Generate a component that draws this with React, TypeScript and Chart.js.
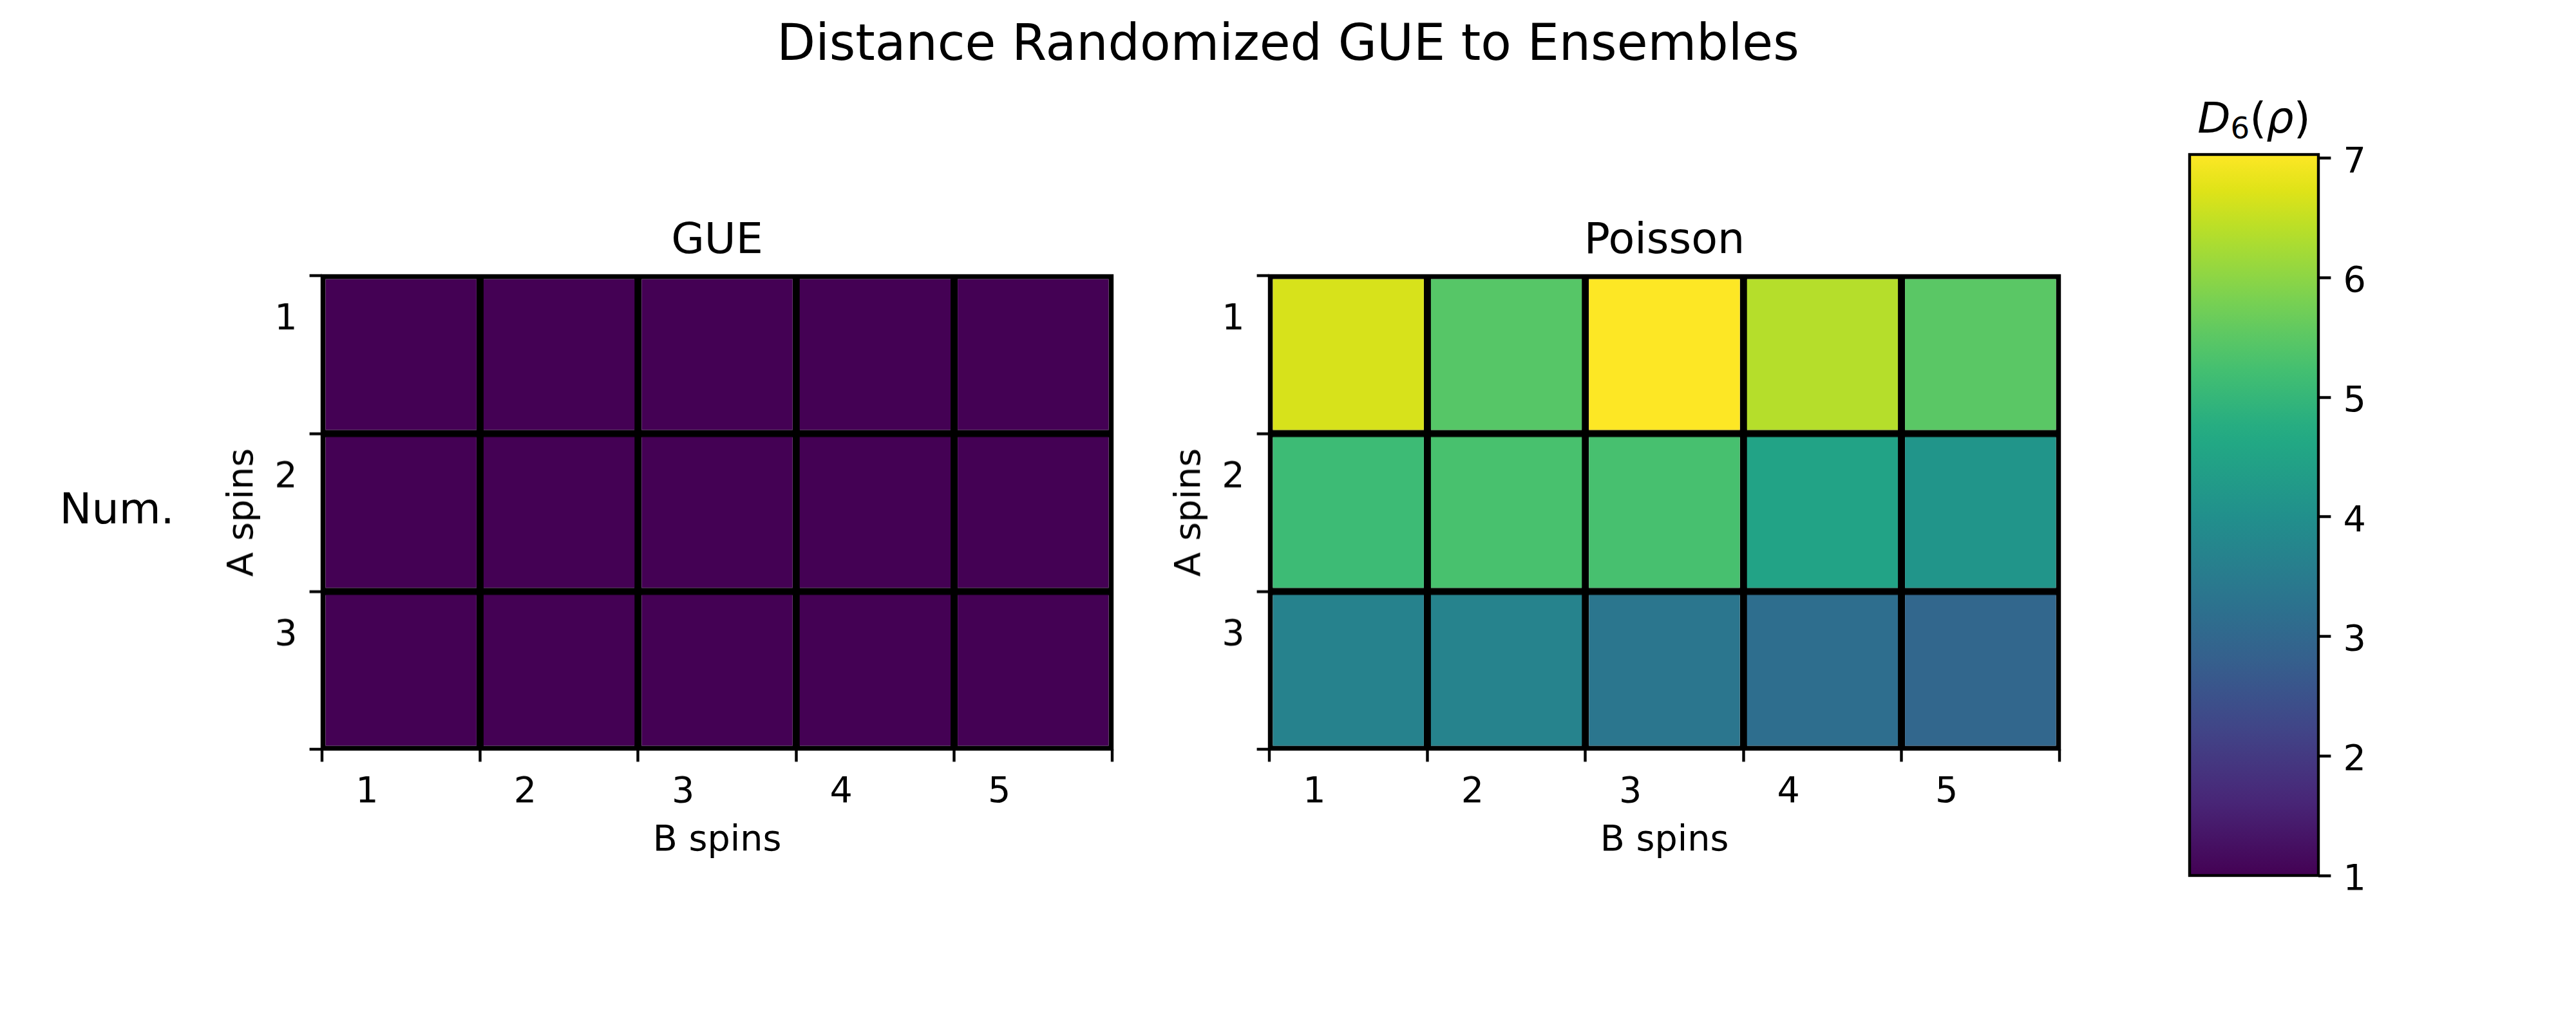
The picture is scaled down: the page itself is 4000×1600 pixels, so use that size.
import React, { useEffect, useRef } from 'react';
import { Chart, registerables } from 'chart.js';

Chart.register(...registerables);

const FONT = "'DejaVu Sans', sans-serif";

// ---- data ----
const bSpinLabels = ['1', '2', '3', '4', '5'];
const aSpinLabels = ['1', '2', '3'];

const gueRow1 = [1.0, 1.0, 1.0, 1.0, 1.0];
const gueRow2 = [1.0, 1.0, 1.0, 1.0, 1.0];
const gueRow3 = [1.0, 1.0, 1.0, 1.0, 1.0];

const poissonRow1 = [6.66, 5.44, 7.03, 6.37, 5.49];
const poissonRow2 = [5.12, 5.28, 5.27, 4.49, 4.14];
const poissonRow3 = [3.66, 3.69, 3.36, 3.16, 2.98];

const colorMin = 1.0;
const colorMax = 7.03;
const colorbarTicks = [1, 2, 3, 4, 5, 6, 7];

const mainTitle = 'Distance Randomized GUE to Ensembles';
const rowGroupLabel = 'Num.';

// ---- viridis colormap ----
const viridisStops: [number, string][] = [
  [0, '#440154'], [0.1, '#482576'], [0.125, '#472d7b'], [0.2, '#414487'],
  [0.25, '#3b528b'], [0.3, '#35608d'], [0.375, '#2c728e'], [0.4, '#2a788e'],
  [0.5, '#21908c'], [0.6, '#22a884'], [0.625, '#27ad81'], [0.7, '#43bf71'],
  [0.75, '#5dc863'], [0.8, '#7ad151'], [0.875, '#aadc32'], [0.9, '#bbdf27'],
  [0.95, '#dfe318'], [1, '#fde725'],
];

function hexToRgb(h: string) {
  return [parseInt(h.slice(1, 3), 16), parseInt(h.slice(3, 5), 16), parseInt(h.slice(5, 7), 16)];
}

function viridis(t: number) {
  const x = Math.max(0, Math.min(1, t));
  for (let i = 0; i < viridisStops.length - 1; i++) {
    const [t0, c0] = viridisStops[i];
    const [t1, c1] = viridisStops[i + 1];
    if (x >= t0 && x <= t1) {
      const f = (x - t0) / (t1 - t0);
      const a = hexToRgb(c0);
      const b = hexToRgb(c1);
      const c = a.map((v, k) => Math.round(v + (b[k] - v) * f));
      return `rgb(${c[0]},${c[1]},${c[2]})`;
    }
  }
  return viridisStops[viridisStops.length - 1][1];
}

function cellColor(v: number) {
  return viridis((v - colorMin) / (colorMax - colorMin));
}

const framePlugin = {
  id: 'frame',
  afterDraw(chart: any) {
    const { ctx, chartArea: a } = chart;
    ctx.save();
    ctx.strokeStyle = '#000';
    ctx.lineWidth = 4.4;
    ctx.strokeRect(a.left, a.top, a.right - a.left, a.bottom - a.top);
    ctx.restore();
  },
};

const tickFont = { family: FONT, size: 55.6, lineHeight: 1.2 };

function cellGrid(count: number, offset: boolean) {
  const isEdge = (c: any) => c.type !== 'tick' || c.index === 0 || c.index === count;
  return {
    offset,
    drawOnChartArea: true,
    lineWidth: (c: any) => (isEdge(c) ? 0 : 11),
    color: (c: any) => (isEdge(c) ? 'rgba(0,0,0,0)' : '#000'),
    drawTicks: true,
    tickLength: 19.4,
    tickWidth: 4.4,
    tickColor: '#000',
  };
}

const HM_W = 1457;
const HM_X_AXIS_H = 176;
const HM_H = 863.5 + HM_X_AXIS_H;
const HM_TOP = 300;

function Heatmap({ title, rows, left }: { title: string; rows: number[][]; left: number }) {
  const ref = useRef<HTMLCanvasElement>(null);
  useEffect(() => {
    const chart = new Chart(ref.current as HTMLCanvasElement, {
      type: 'bar',
      data: {
        labels: bSpinLabels,
        datasets: rows.map((row, r) => ({
          label: aSpinLabels[r],
          data: row.map(() => [r, r + 1]),
          backgroundColor: row.map(cellColor),
          borderColor: '#000',
          borderWidth: 5.5,
          borderSkipped: false,
          grouped: false,
          barPercentage: 1,
          categoryPercentage: 1,
          inflateAmount: 0,
        })) as any,
      },
      options: {
        responsive: false,
        animation: false,
        devicePixelRatio: 1,
        layout: { padding: { left: 0, top: 0, right: 30, bottom: 0 } },
        plugins: {
          legend: { display: false },
          tooltip: { enabled: false },
          title: {
            display: true,
            text: title,
            fullSize: false,
            color: '#000',
            font: { family: FONT, size: 66.7, weight: 'normal', lineHeight: 1.2 },
            padding: { top: 35.4, bottom: 12.6 },
          },
        },
        scales: {
          x: {
            type: 'category',
            offset: true,
            z: 1,
            grid: cellGrid(bSpinLabels.length, true),
            border: { display: false },
            ticks: {
              color: '#000',
              font: tickFont,
              padding: 14.7,
              labelOffset: -52.7,
              maxRotation: 0,
              minRotation: 0,
              autoSkip: false,
            },
            title: {
              display: true,
              text: 'B spins',
              color: '#000',
              font: tickFont,
              padding: { top: 0, bottom: 0 },
            },
            afterFit: (s: any) => { s.height = HM_X_AXIS_H; },
          },
          y: {
            type: 'linear',
            min: 0,
            max: aSpinLabels.length,
            reverse: true,
            z: 1,
            grid: cellGrid(aSpinLabels.length, false),
            border: { display: false },
            afterBuildTicks: (s: any) => {
              s.ticks = Array.from({ length: aSpinLabels.length + 1 }, (_, i) => ({ value: i }));
            },
            ticks: {
              color: '#000',
              font: tickFont,
              padding: 19,
              labelOffset: 68.5,
              callback: (v: any) => aSpinLabels[v] ?? '',
            },
            title: {
              display: true,
              text: 'A spins',
              color: '#000',
              font: tickFont,
              padding: { top: 43.9, bottom: 0 },
            },
            afterFit: (s: any) => { s.width = 200; },
          },
        },
      } as any,
      plugins: [framePlugin],
    });
    return () => chart.destroy();
  }, []);
  return (
    <canvas
      ref={ref}
      width={HM_W}
      height={HM_H}
      style={{ position: 'absolute', left, top: HM_TOP, width: HM_W, height: HM_H }}
    />
  );
}

const CB_LEFT = 3350;
const CB_TOP = 180;
const CB_W = 400;
const CB_H = 1240;

function Colorbar() {
  const ref = useRef<HTMLCanvasElement>(null);
  useEffect(() => {
    const chart = new Chart(ref.current as HTMLCanvasElement, {
      type: 'bar',
      data: {
        labels: [''],
        datasets: [
          {
            data: [[colorMin, colorMax]],
            backgroundColor: (c: any) => {
              const ch = c.chart;
              const y = ch.scales && ch.scales.y;
              if (!ch.chartArea || !y) return viridis(0.5);
              const g = ch.ctx.createLinearGradient(0, y.getPixelForValue(colorMin), 0, y.getPixelForValue(colorMax));
              viridisStops.forEach(([t, hex]) => g.addColorStop(t, hex));
              return g;
            },
            borderWidth: 0,
            barPercentage: 1,
            categoryPercentage: 1,
            inflateAmount: 0,
          },
        ] as any,
      },
      options: {
        responsive: false,
        animation: false,
        devicePixelRatio: 1,
        layout: { padding: { left: 50, top: 60, right: 50, bottom: 60 } },
        plugins: { legend: { display: false }, tooltip: { enabled: false } },
        scales: {
          x: { display: false },
          y: {
            type: 'linear',
            position: 'right',
            min: colorMin,
            max: colorMax,
            afterBuildTicks: (s: any) => { s.ticks = colorbarTicks.map((v) => ({ value: v })); },
            grid: { drawOnChartArea: false, drawTicks: true, tickLength: 19.4, tickWidth: 4.4, tickColor: '#000' },
            border: { display: false },
            ticks: { color: '#000', font: tickFont, padding: 19, labelOffset: 7.5 },
            afterFit: (s: any) => { s.width = 100; },
          },
        },
      } as any,
      plugins: [framePlugin],
    });
    return () => chart.destroy();
  }, []);
  return (
    <canvas
      ref={ref}
      width={CB_W}
      height={CB_H}
      style={{ position: 'absolute', left: CB_LEFT, top: CB_TOP, width: CB_W, height: CB_H }}
    />
  );
}

export default function App() {
  return (
    <div style={{ position: 'absolute', left: 0, top: 0, width: 4000, height: 1600, background: '#fff', overflow: 'hidden' }}>
      <div
        style={{
          position: 'absolute', left: 0, top: 27.7, width: 4000, textAlign: 'center',
          fontFamily: FONT, fontSize: '77.8px', lineHeight: '77.8px', whiteSpace: 'nowrap', color: '#000',
        }}
      >
        {mainTitle}
      </div>
      <div
        style={{
          position: 'absolute', left: 92.5, top: 756.5,
          fontFamily: FONT, fontSize: '66.7px', lineHeight: '66.7px', whiteSpace: 'nowrap', color: '#000',
        }}
      >
        {rowGroupLabel}
      </div>
      <div
        style={{
          position: 'absolute', left: 3300, top: 150.3, width: 400, textAlign: 'center',
          fontFamily: FONT, fontSize: '66.7px', lineHeight: '66.7px', whiteSpace: 'nowrap', color: '#000',
        }}
      >
        <span style={{ fontStyle: 'italic' }}>D</span>
        <span style={{ fontSize: '46.7px', position: 'relative', top: 9 }}>6</span>
        (<span style={{ fontStyle: 'italic' }}>ρ</span>)
      </div>
      <Heatmap title="GUE" rows={[gueRow1, gueRow2, gueRow3]} left={300} />
      <Heatmap title="Poisson" rows={[poissonRow1, poissonRow2, poissonRow3]} left={1771} />
      <Colorbar />
    </div>
  );
}
